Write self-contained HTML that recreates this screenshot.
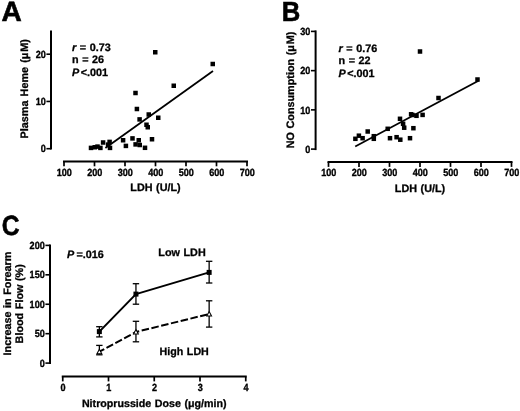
<!DOCTYPE html>
<html><head><meta charset="utf-8"><title>Figure</title>
<style>
html,body{margin:0;padding:0;background:#fff;}
svg{display:block;}
text{font-family:"Liberation Sans", Arial, Helvetica, sans-serif;font-weight:bold;fill:#000;text-rendering:geometricPrecision;word-spacing:0.6px;}
</style></head><body>
<svg width="520" height="411" viewBox="0 0 520 411">
<defs><filter id="soft" x="0" y="0" width="520" height="411" filterUnits="userSpaceOnUse"><feGaussianBlur stdDeviation="0.4"/></filter></defs>
<rect width="520" height="411" fill="#fff"/>
<g filter="url(#soft)">
<text transform="translate(1.60 20.50)" font-size="28" text-anchor="start" stroke="#000" stroke-width="0.6">A</text>
<line x1="51.0" y1="30.5" x2="51.0" y2="149.5" stroke="#000" stroke-width="2.0"/>
<line x1="46.4" y1="148.7" x2="51.0" y2="148.7" stroke="#000" stroke-width="1.6"/>
<text transform="translate(45.80 152.20) scale(0.875 1)" font-size="10.4" text-anchor="end" stroke="#000" stroke-width="0.35">0</text>
<line x1="46.4" y1="101.45" x2="51.0" y2="101.45" stroke="#000" stroke-width="1.6"/>
<text transform="translate(45.80 104.95) scale(0.875 1)" font-size="10.4" text-anchor="end" stroke="#000" stroke-width="0.35">10</text>
<line x1="46.4" y1="54.2" x2="51.0" y2="54.2" stroke="#000" stroke-width="1.6"/>
<text transform="translate(45.80 57.70) scale(0.875 1)" font-size="10.4" text-anchor="end" stroke="#000" stroke-width="0.35">20</text>
<text transform="translate(28.30 88.80) rotate(-90)" font-size="10.8" text-anchor="middle" stroke="#000" stroke-width="0.3" style="word-spacing:1.2px">Plasma Heme (μ<tspan dx="0.8">M)</tspan></text>
<line x1="63.0" y1="161.4" x2="248.0" y2="161.4" stroke="#000" stroke-width="2.0"/>
<line x1="64.0" y1="161.4" x2="64.0" y2="166.3" stroke="#000" stroke-width="1.7"/>
<text transform="translate(64.30 176.10) scale(0.875 1)" font-size="10.4" text-anchor="middle" stroke="#000" stroke-width="0.35">100</text>
<line x1="94.5" y1="161.4" x2="94.5" y2="166.3" stroke="#000" stroke-width="1.7"/>
<text transform="translate(94.80 176.10) scale(0.875 1)" font-size="10.4" text-anchor="middle" stroke="#000" stroke-width="0.35">200</text>
<line x1="125.0" y1="161.4" x2="125.0" y2="166.3" stroke="#000" stroke-width="1.7"/>
<text transform="translate(125.30 176.10) scale(0.875 1)" font-size="10.4" text-anchor="middle" stroke="#000" stroke-width="0.35">300</text>
<line x1="155.5" y1="161.4" x2="155.5" y2="166.3" stroke="#000" stroke-width="1.7"/>
<text transform="translate(155.80 176.10) scale(0.875 1)" font-size="10.4" text-anchor="middle" stroke="#000" stroke-width="0.35">400</text>
<line x1="186.0" y1="161.4" x2="186.0" y2="166.3" stroke="#000" stroke-width="1.7"/>
<text transform="translate(186.30 176.10) scale(0.875 1)" font-size="10.4" text-anchor="middle" stroke="#000" stroke-width="0.35">500</text>
<line x1="216.5" y1="161.4" x2="216.5" y2="166.3" stroke="#000" stroke-width="1.7"/>
<text transform="translate(216.80 176.10) scale(0.875 1)" font-size="10.4" text-anchor="middle" stroke="#000" stroke-width="0.35">600</text>
<line x1="247.0" y1="161.4" x2="247.0" y2="166.3" stroke="#000" stroke-width="1.7"/>
<text transform="translate(247.30 176.10) scale(0.875 1)" font-size="10.4" text-anchor="middle" stroke="#000" stroke-width="0.35">700</text>
<text transform="translate(155.50 191.30)" font-size="10.8" text-anchor="middle" stroke="#000" stroke-width="0.3">LDH (U/L)</text>
<text transform="translate(72.00 50.50)" font-size="10.8" text-anchor="start" stroke="#000" stroke-width="0.3"><tspan font-style="italic">r</tspan> = 0.73</text>
<text transform="translate(72.00 63.10)" font-size="10.8" text-anchor="start" stroke="#000" stroke-width="0.3">n = 26</text>
<text transform="translate(72.00 75.70)" font-size="10.8" text-anchor="start" stroke="#000" stroke-width="0.3"><tspan font-style="italic">P</tspan><tspan dx="1.6">&lt;.001</tspan></text>
<line x1="105.4" y1="148.0" x2="213" y2="71" stroke="#000" stroke-width="1.8"/>
<rect x="153.00" y="50.00" width="4.5" height="4.5" fill="#000"/>
<rect x="210.50" y="61.75" width="4.5" height="4.5" fill="#000"/>
<rect x="171.50" y="83.50" width="4.5" height="4.5" fill="#000"/>
<rect x="133.25" y="90.75" width="4.5" height="4.5" fill="#000"/>
<rect x="134.65" y="106.75" width="4.5" height="4.5" fill="#000"/>
<rect x="146.50" y="112.25" width="4.5" height="4.5" fill="#000"/>
<rect x="137.35" y="117.15" width="4.5" height="4.5" fill="#000"/>
<rect x="156.00" y="115.50" width="4.5" height="4.5" fill="#000"/>
<rect x="144.25" y="122.50" width="4.5" height="4.5" fill="#000"/>
<rect x="145.50" y="125.00" width="4.5" height="4.5" fill="#000"/>
<rect x="130.25" y="136.15" width="4.5" height="4.5" fill="#000"/>
<rect x="136.50" y="138.00" width="4.5" height="4.5" fill="#000"/>
<rect x="149.75" y="137.00" width="4.5" height="4.5" fill="#000"/>
<rect x="133.35" y="142.15" width="4.5" height="4.5" fill="#000"/>
<rect x="137.50" y="142.75" width="4.5" height="4.5" fill="#000"/>
<rect x="142.75" y="145.55" width="4.5" height="4.5" fill="#000"/>
<rect x="88.75" y="145.65" width="4.5" height="4.5" fill="#000"/>
<rect x="92.50" y="145.00" width="4.5" height="4.5" fill="#000"/>
<rect x="95.25" y="144.35" width="4.5" height="4.5" fill="#000"/>
<rect x="98.15" y="145.65" width="4.5" height="4.5" fill="#000"/>
<rect x="100.85" y="140.25" width="4.5" height="4.5" fill="#000"/>
<rect x="107.35" y="139.65" width="4.5" height="4.5" fill="#000"/>
<rect x="105.85" y="142.35" width="4.5" height="4.5" fill="#000"/>
<rect x="107.75" y="145.65" width="4.5" height="4.5" fill="#000"/>
<rect x="120.85" y="138.00" width="4.5" height="4.5" fill="#000"/>
<rect x="123.65" y="143.65" width="4.5" height="4.5" fill="#000"/>
<text transform="translate(281.80 20.70) scale(0.93 1)" font-size="27.6" text-anchor="start" stroke="#000" stroke-width="0.6">B</text>
<line x1="315.6" y1="30.4" x2="315.6" y2="150.1" stroke="#000" stroke-width="2.0"/>
<line x1="311.0" y1="149.1" x2="315.6" y2="149.1" stroke="#000" stroke-width="1.6"/>
<text transform="translate(310.40 152.80) scale(0.875 1)" font-size="10.4" text-anchor="end" stroke="#000" stroke-width="0.35">0</text>
<line x1="311.0" y1="109.86666666666666" x2="315.6" y2="109.86666666666666" stroke="#000" stroke-width="1.6"/>
<text transform="translate(310.40 113.57) scale(0.875 1)" font-size="10.4" text-anchor="end" stroke="#000" stroke-width="0.35">10</text>
<line x1="311.0" y1="70.63333333333333" x2="315.6" y2="70.63333333333333" stroke="#000" stroke-width="1.6"/>
<text transform="translate(310.40 74.33) scale(0.875 1)" font-size="10.4" text-anchor="end" stroke="#000" stroke-width="0.35">20</text>
<line x1="311.0" y1="31.400000000000006" x2="315.6" y2="31.400000000000006" stroke="#000" stroke-width="1.6"/>
<text transform="translate(310.40 35.10) scale(0.875 1)" font-size="10.4" text-anchor="end" stroke="#000" stroke-width="0.35">30</text>
<text transform="translate(294.20 90.00) rotate(-90)" font-size="10.8" text-anchor="middle" stroke="#000" stroke-width="0.3">NO Consumption (μ<tspan dx="0.8">M)</tspan></text>
<line x1="327.5" y1="162.0" x2="512.5" y2="162.0" stroke="#000" stroke-width="2.0"/>
<line x1="328.5" y1="162.0" x2="328.5" y2="166.9" stroke="#000" stroke-width="1.7"/>
<text transform="translate(328.80 176.30) scale(0.875 1)" font-size="10.4" text-anchor="middle" stroke="#000" stroke-width="0.35">100</text>
<line x1="359.0" y1="162.0" x2="359.0" y2="166.9" stroke="#000" stroke-width="1.7"/>
<text transform="translate(359.30 176.30) scale(0.875 1)" font-size="10.4" text-anchor="middle" stroke="#000" stroke-width="0.35">200</text>
<line x1="389.5" y1="162.0" x2="389.5" y2="166.9" stroke="#000" stroke-width="1.7"/>
<text transform="translate(389.80 176.30) scale(0.875 1)" font-size="10.4" text-anchor="middle" stroke="#000" stroke-width="0.35">300</text>
<line x1="420.0" y1="162.0" x2="420.0" y2="166.9" stroke="#000" stroke-width="1.7"/>
<text transform="translate(420.30 176.30) scale(0.875 1)" font-size="10.4" text-anchor="middle" stroke="#000" stroke-width="0.35">400</text>
<line x1="450.5" y1="162.0" x2="450.5" y2="166.9" stroke="#000" stroke-width="1.7"/>
<text transform="translate(450.80 176.30) scale(0.875 1)" font-size="10.4" text-anchor="middle" stroke="#000" stroke-width="0.35">500</text>
<line x1="481.0" y1="162.0" x2="481.0" y2="166.9" stroke="#000" stroke-width="1.7"/>
<text transform="translate(481.30 176.30) scale(0.875 1)" font-size="10.4" text-anchor="middle" stroke="#000" stroke-width="0.35">600</text>
<line x1="511.5" y1="162.0" x2="511.5" y2="166.9" stroke="#000" stroke-width="1.7"/>
<text transform="translate(511.80 176.30) scale(0.875 1)" font-size="10.4" text-anchor="middle" stroke="#000" stroke-width="0.35">700</text>
<text transform="translate(420.00 191.70)" font-size="10.8" text-anchor="middle" stroke="#000" stroke-width="0.3">LDH (U/L)</text>
<text transform="translate(338.50 51.50)" font-size="10.8" text-anchor="start" stroke="#000" stroke-width="0.3"><tspan font-style="italic">r</tspan> = 0.76</text>
<text transform="translate(338.50 64.10)" font-size="10.8" text-anchor="start" stroke="#000" stroke-width="0.3">n = 22</text>
<text transform="translate(338.50 76.70)" font-size="10.8" text-anchor="start" stroke="#000" stroke-width="0.3"><tspan font-style="italic">P</tspan><tspan dx="1.6">&lt;.001</tspan></text>
<line x1="355.2" y1="146.5" x2="478.5" y2="80.8" stroke="#000" stroke-width="1.8"/>
<rect x="417.75" y="49.25" width="4.5" height="4.5" fill="#000"/>
<rect x="475.25" y="77.25" width="4.5" height="4.5" fill="#000"/>
<rect x="436.25" y="95.75" width="4.5" height="4.5" fill="#000"/>
<rect x="353.15" y="136.55" width="4.5" height="4.5" fill="#000"/>
<rect x="356.65" y="133.45" width="4.5" height="4.5" fill="#000"/>
<rect x="360.35" y="135.95" width="4.5" height="4.5" fill="#000"/>
<rect x="365.45" y="129.25" width="4.5" height="4.5" fill="#000"/>
<rect x="371.55" y="133.95" width="4.5" height="4.5" fill="#000"/>
<rect x="371.55" y="136.55" width="4.5" height="4.5" fill="#000"/>
<rect x="385.45" y="126.55" width="4.5" height="4.5" fill="#000"/>
<rect x="387.75" y="135.95" width="4.5" height="4.5" fill="#000"/>
<rect x="394.35" y="134.95" width="4.5" height="4.5" fill="#000"/>
<rect x="398.05" y="137.45" width="4.5" height="4.5" fill="#000"/>
<rect x="397.75" y="116.55" width="4.5" height="4.5" fill="#000"/>
<rect x="400.85" y="121.55" width="4.5" height="4.5" fill="#000"/>
<rect x="401.95" y="125.45" width="4.5" height="4.5" fill="#000"/>
<rect x="408.85" y="112.05" width="4.5" height="4.5" fill="#000"/>
<rect x="410.25" y="112.75" width="4.5" height="4.5" fill="#000"/>
<rect x="414.25" y="113.55" width="4.5" height="4.5" fill="#000"/>
<rect x="420.35" y="112.65" width="4.5" height="4.5" fill="#000"/>
<rect x="411.15" y="125.95" width="4.5" height="4.5" fill="#000"/>
<rect x="407.75" y="135.95" width="4.5" height="4.5" fill="#000"/>
<text transform="translate(1.80 234.70) scale(0.885 1)" font-size="27.8" text-anchor="start" stroke="#000" stroke-width="0.6">C</text>
<line x1="50" y1="244.4" x2="50" y2="364.1" stroke="#000" stroke-width="2.0"/>
<line x1="45.4" y1="363.1" x2="50" y2="363.1" stroke="#000" stroke-width="1.6"/>
<text transform="translate(44.80 366.70) scale(0.875 1)" font-size="10.4" text-anchor="end" stroke="#000" stroke-width="0.35">0</text>
<line x1="45.4" y1="333.675" x2="50" y2="333.675" stroke="#000" stroke-width="1.6"/>
<text transform="translate(44.80 337.28) scale(0.875 1)" font-size="10.4" text-anchor="end" stroke="#000" stroke-width="0.35">50</text>
<line x1="45.4" y1="304.25" x2="50" y2="304.25" stroke="#000" stroke-width="1.6"/>
<text transform="translate(44.80 307.85) scale(0.875 1)" font-size="10.4" text-anchor="end" stroke="#000" stroke-width="0.35">100</text>
<line x1="45.4" y1="274.825" x2="50" y2="274.825" stroke="#000" stroke-width="1.6"/>
<text transform="translate(44.80 278.43) scale(0.875 1)" font-size="10.4" text-anchor="end" stroke="#000" stroke-width="0.35">150</text>
<line x1="45.4" y1="245.4" x2="50" y2="245.4" stroke="#000" stroke-width="1.6"/>
<text transform="translate(44.80 249.00) scale(0.875 1)" font-size="10.4" text-anchor="end" stroke="#000" stroke-width="0.35">200</text>
<text transform="translate(11.30 303.50) rotate(-90)" font-size="10.8" text-anchor="middle" stroke="#000" stroke-width="0.3">Increase in Forearm</text>
<text transform="translate(22.90 303.80) rotate(-90)" font-size="10.8" text-anchor="middle" stroke="#000" stroke-width="0.3">Blood Flow (%)</text>
<line x1="61.75" y1="376.6" x2="246.75" y2="376.6" stroke="#000" stroke-width="2.0"/>
<line x1="62.75" y1="376.6" x2="62.75" y2="381.40000000000003" stroke="#000" stroke-width="1.7"/>
<text transform="translate(62.95 390.80) scale(0.875 1)" font-size="10.4" text-anchor="middle" stroke="#000" stroke-width="0.35">0</text>
<line x1="108.5" y1="376.6" x2="108.5" y2="381.40000000000003" stroke="#000" stroke-width="1.7"/>
<text transform="translate(108.70 390.80) scale(0.875 1)" font-size="10.4" text-anchor="middle" stroke="#000" stroke-width="0.35">1</text>
<line x1="154.25" y1="376.6" x2="154.25" y2="381.40000000000003" stroke="#000" stroke-width="1.7"/>
<text transform="translate(154.45 390.80) scale(0.875 1)" font-size="10.4" text-anchor="middle" stroke="#000" stroke-width="0.35">2</text>
<line x1="200.0" y1="376.6" x2="200.0" y2="381.40000000000003" stroke="#000" stroke-width="1.7"/>
<text transform="translate(200.20 390.80) scale(0.875 1)" font-size="10.4" text-anchor="middle" stroke="#000" stroke-width="0.35">3</text>
<line x1="245.75" y1="376.6" x2="245.75" y2="381.40000000000003" stroke="#000" stroke-width="1.7"/>
<text transform="translate(245.95 390.80) scale(0.875 1)" font-size="10.4" text-anchor="middle" stroke="#000" stroke-width="0.35">4</text>
<text transform="translate(154.25 406.50)" font-size="10.68" text-anchor="middle" stroke="#000" stroke-width="0.3">Nitroprusside Dose (μg/min)</text>
<text transform="translate(67.00 257.80)" font-size="10.8" text-anchor="start" stroke="#000" stroke-width="0.3"><tspan font-style="italic">P</tspan><tspan dx="2.2">=.016</tspan></text>
<text transform="translate(182.00 255.80)" font-size="10.8" text-anchor="middle" stroke="#000" stroke-width="0.3">Low LDH</text>
<text transform="translate(184.20 355.20)" font-size="10.7" text-anchor="middle" stroke="#000" stroke-width="0.3">High LDH</text>
<polyline points="99.35,331.6 135.95,294.1 209.15,272.4" fill="none" stroke="#000" stroke-width="2.0" stroke-linejoin="round"/>
<line x1="99.35" y1="326.7" x2="99.35" y2="336.9" stroke="#000" stroke-width="1.3"/>
<line x1="96.14999999999999" y1="326.7" x2="102.55" y2="326.7" stroke="#000" stroke-width="1.3"/>
<line x1="96.14999999999999" y1="336.9" x2="102.55" y2="336.9" stroke="#000" stroke-width="1.3"/>
<rect x="96.85" y="329.10" width="5.0" height="5.0" fill="#000"/>
<line x1="135.95" y1="283.7" x2="135.95" y2="304.2" stroke="#000" stroke-width="1.3"/>
<line x1="132.75" y1="283.7" x2="139.14999999999998" y2="283.7" stroke="#000" stroke-width="1.3"/>
<line x1="132.75" y1="304.2" x2="139.14999999999998" y2="304.2" stroke="#000" stroke-width="1.3"/>
<rect x="133.45" y="291.60" width="5.0" height="5.0" fill="#000"/>
<line x1="209.15" y1="261.3" x2="209.15" y2="283.0" stroke="#000" stroke-width="1.3"/>
<line x1="205.95000000000002" y1="261.3" x2="212.35" y2="261.3" stroke="#000" stroke-width="1.3"/>
<line x1="205.95000000000002" y1="283.0" x2="212.35" y2="283.0" stroke="#000" stroke-width="1.3"/>
<rect x="206.65" y="269.90" width="5.0" height="5.0" fill="#000"/>
<line x1="99.35" y1="351.7" x2="135.95" y2="332.0" stroke="#000" stroke-width="2.0" stroke-dasharray="7.5 2.54" stroke-dashoffset="1.94"/>
<line x1="135.95" y1="332.0" x2="209.15" y2="314.0" stroke="#000" stroke-width="2.0" stroke-dasharray="7.5 2.54" stroke-dashoffset="4.14"/>
<line x1="99.35" y1="345.4" x2="99.35" y2="354.8" stroke="#000" stroke-width="1.3"/>
<line x1="96.14999999999999" y1="345.4" x2="102.55" y2="345.4" stroke="#000" stroke-width="1.3"/>
<line x1="96.14999999999999" y1="354.8" x2="102.55" y2="354.8" stroke="#000" stroke-width="1.3"/>
<path d="M99.35 349.30 L101.75 353.70 L96.95 353.70 Z" fill="#fff" stroke="#000" stroke-width="1.05" stroke-linejoin="miter"/>
<line x1="135.95" y1="321.3" x2="135.95" y2="341.8" stroke="#000" stroke-width="1.3"/>
<line x1="132.75" y1="321.3" x2="139.14999999999998" y2="321.3" stroke="#000" stroke-width="1.3"/>
<line x1="132.75" y1="341.8" x2="139.14999999999998" y2="341.8" stroke="#000" stroke-width="1.3"/>
<path d="M135.95 329.60 L138.35 334.00 L133.55 334.00 Z" fill="#fff" stroke="#000" stroke-width="1.05" stroke-linejoin="miter"/>
<line x1="209.15" y1="300.8" x2="209.15" y2="327.1" stroke="#000" stroke-width="1.3"/>
<line x1="205.95000000000002" y1="300.8" x2="212.35" y2="300.8" stroke="#000" stroke-width="1.3"/>
<line x1="205.95000000000002" y1="327.1" x2="212.35" y2="327.1" stroke="#000" stroke-width="1.3"/>
<path d="M209.15 311.60 L211.55 316.00 L206.75 316.00 Z" fill="#fff" stroke="#000" stroke-width="1.05" stroke-linejoin="miter"/>
</g>
</svg>
</body></html>
